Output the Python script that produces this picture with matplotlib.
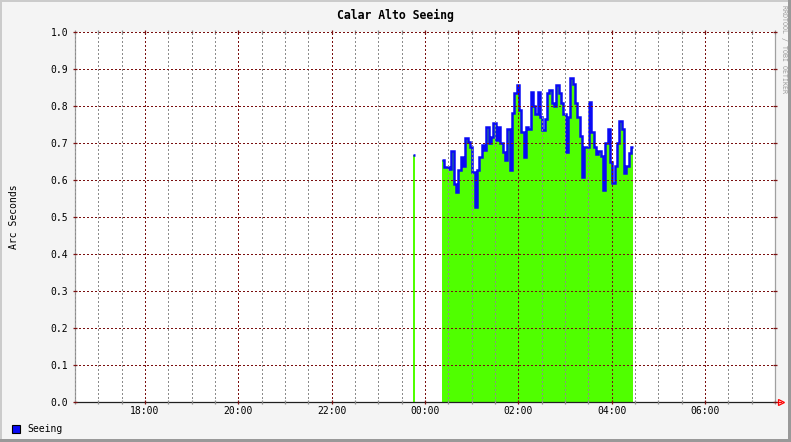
import numpy as np
import pandas as pd
import matplotlib
matplotlib.use("Agg")
import matplotlib.pyplot as plt
import matplotlib.dates as mdates
from matplotlib.patches import Rectangle

# Seeing samples (arc seconds), one every 3 minutes from 00:22
seeing_start = "2000-01-02 00:22"
seeing_step_min = 3
seeing = [
    0.655, 0.635, 0.635, 0.630, 0.679, 0.590, 0.568, 0.628, 0.664, 0.640,
    0.713, 0.704, 0.690, 0.623, 0.529, 0.628, 0.664, 0.695, 0.682, 0.745,
    0.700, 0.717, 0.754, 0.710, 0.745, 0.700, 0.676, 0.655, 0.740, 0.628,
    0.781, 0.835, 0.858, 0.790, 0.730, 0.664, 0.745, 0.740, 0.839, 0.800,
    0.780, 0.839, 0.770, 0.736, 0.765, 0.835, 0.844, 0.810, 0.800, 0.858,
    0.835, 0.810, 0.780, 0.677, 0.770, 0.876, 0.860, 0.810, 0.770, 0.720,
    0.610, 0.690, 0.690, 0.812, 0.730, 0.690, 0.670, 0.680, 0.665, 0.575,
    0.700, 0.740, 0.650, 0.592, 0.640, 0.700, 0.760, 0.740, 0.620, 0.640,
    0.675, 0.690,
]
# isolated sample before the main block
spike_time = "2000-01-01 23:45"
spike_value = 0.669

x_start = "2000-01-01 16:30"
x_end = "2000-01-02 07:30"
y_ticks = [0.0, 0.1, 0.2, 0.3, 0.4, 0.5, 0.6, 0.7, 0.8, 0.9, 1.0]

BACK = "#F4F4F4"
GREEN = "#50FF00"
BLUE = "#0A0AF5"
MGRID = "#7A1010"
GRID = "#8C8C8C"
FONT = "DejaVu Sans Mono"

plt.rcParams["font.family"] = FONT

W, H = 791, 442
fig = plt.figure(figsize=(W / 100, H / 100), dpi=100, facecolor=BACK)
ax = fig.add_axes([75 / W, (H - 402.3) / H, 700 / W, 370 / H])
ax.set_facecolor("white")

dt = seeing_step_min / 1440
t = mdates.date2num(pd.date_range(seeing_start, periods=len(seeing), freq=f"{seeing_step_min}min"))
tx = np.append(t, t[-1] + dt)
vy = np.append(seeing, seeing[-1])
ax.fill_between(tx, vy, step="post", color=GREEN, lw=0, zorder=1)
ax.step(tx, vy, where="post", color=BLUE, lw=1.8, zorder=2, solid_joinstyle="miter", solid_capstyle="butt")

st = mdates.date2num(pd.Timestamp(spike_time))
ax.fill_between([st, st + dt * 0.75], [spike_value] * 2, color=GREEN, lw=0, zorder=1)
ax.plot([st - dt * 0.1, st + dt * 0.9], [spike_value] * 2, color=BLUE, lw=1.8, zorder=2, solid_capstyle="butt")

ax.set_xlim(mdates.date2num(pd.Timestamp(x_start)), mdates.date2num(pd.Timestamp(x_end)))
ax.set_ylim(0, 1.0)

ax.xaxis.set_major_locator(mdates.HourLocator(byhour=range(0, 24, 2)))
ax.xaxis.set_minor_locator(mdates.MinuteLocator(byminute=[0, 30]))
ax.xaxis.set_major_formatter(mdates.DateFormatter("%H:%M"))
ax.set_yticks(y_ticks)
ax.set_yticklabels([f"{v:.1f}" for v in y_ticks])

ax.set_axisbelow(False)
dots = (0, (1, 2))
ax.grid(which="major", color=MGRID, lw=1.0, ls=dots, antialiased=False)
ax.grid(which="minor", axis="x", color=GRID, lw=1.0, ls=dots, antialiased=False)

ax.tick_params(axis="both", which="major", direction="inout", length=3, width=0.9,
               color=MGRID, labelsize=7, top=True, right=True)
ax.tick_params(axis="x", which="minor", direction="inout", length=3, width=0.9,
               color=GRID, top=True)
ax.tick_params(axis="x", which="major", pad=1.5)
ax.tick_params(axis="y", which="major", pad=3.5)

for side in ["left", "right"]:
    ax.spines[side].set_color("#A0A0A0")
    ax.spines[side].set_linewidth(0.9)
ax.spines["top"].set_visible(False)
ax.spines["bottom"].set_color("#202020")
ax.spines["bottom"].set_linewidth(0.9)

# red arrow at end of time axis
ax.plot([1.0, 1.008], [0, 0], color="red", lw=0.9, transform=ax.transAxes, clip_on=False)
ax.plot([1.009], [0], marker=">", ms=5, mfc="none", mec="red", mew=0.9,
        transform=ax.transAxes, clip_on=False)

fig.text(0.5, 1 - 15 / H, "Calar Alto Seeing", ha="center", va="center",
         fontsize=8.3, fontweight="bold")
fig.text(14 / W, 0.5 - (217 - H / 2) / H, "Arc Seconds", rotation=90,
         ha="center", va="center", fontsize=7)
fig.text(784 / W, 1 - 5 / H, "RRDTOOL / TOBI OETIKER", rotation=270,
         ha="center", va="top", fontsize=4.8, color="#9A9A9A")

# legend
fig.add_artist(Rectangle((12 / W, 1 - 433 / H), 8 / W, 8 / H, transform=fig.transFigure,
                         facecolor=BLUE, edgecolor="black", lw=0.8))
fig.text(27 / W, 1 - 429 / H, "Seeing", ha="left", va="center", fontsize=7)

# 3D frame
fig.add_artist(Rectangle((0, 1 - 2 / H), 1, 2 / H, transform=fig.transFigure, color="#CBCBCB", lw=0))
fig.add_artist(Rectangle((0, 0), 2 / W, 1, transform=fig.transFigure, color="#CBCBCB", lw=0))
fig.add_artist(Rectangle((1 - 3 / W, 0), 3 / W, 1, transform=fig.transFigure, color="#999999", lw=0))
fig.add_artist(Rectangle((0, 0), 1, 3 / H, transform=fig.transFigure, color="#999999", lw=0))

fig.savefig("out.png", dpi=100, facecolor=BACK)
